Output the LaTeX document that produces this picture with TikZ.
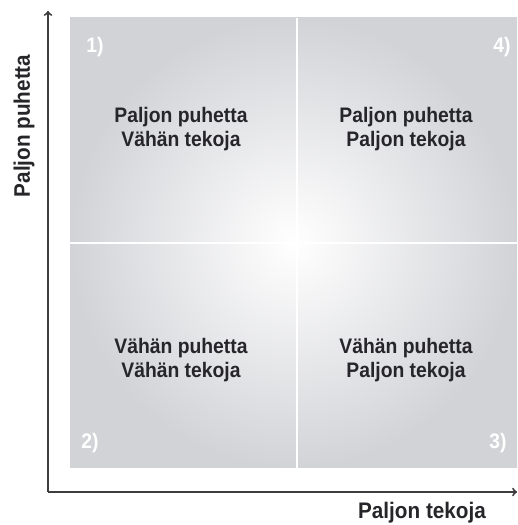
\documentclass[tikz,border=0pt]{standalone}
\usepackage{fontspec}
\setmainfont{Liberation Sans}[FakeStretch=0.92]
\usepackage{tikz}
\usetikzlibrary{arrows,backgrounds,calc}
\definecolor{quadgray}{RGB}{210,211,215}
\definecolor{inkgray}{RGB}{38,38,42}
\definecolor{axisgray}{RGB}{62,62,64}
\tikzset{
  quadtext/.style={align=center,font=\fontsize{21}{24}\selectfont\bfseries,text=inkgray,inner sep=0pt},
  quadnum/.style={font=\fontsize{21}{24}\selectfont\bfseries,text=white,inner sep=0pt},
  axislabel/.style={font=\fontsize{22.5}{24}\selectfont\bfseries,text=inkgray,inner sep=0pt},
  axisline/.style={draw=axisgray,line width=2pt,-to}
}
\begin{document}
\begin{tikzpicture}[x=1pt,y=1pt]
\useasboundingbox (0,0) rectangle (517,525);
\fill[quadgray] (70,57) rectangle (517,507);
\shade[inner color=white,outer color=quadgray] (70,57) rectangle (517,507);
\draw[white,line width=2pt] (297,57) -- (297,507) (70,282) -- (517,282);
\coordinate (origin) at (48,33);
\coordinate (ytip) at (48,514);
\coordinate (xtip) at (517,33);
\draw[axisline] (origin) -- (ytip);
\draw[axisline] (origin) -- (xtip);
\node[quadtext] (q1) at (181,396) {Paljon puhetta\\Vähän tekoja};
\node[quadtext] (q4) at (406,396) {Paljon puhetta\\Paljon tekoja};
\node[quadtext] (q2) at (181,165) {Vähän puhetta\\Vähän tekoja};
\node[quadtext] (q3) at (406,165) {Vähän puhetta\\Paljon tekoja};
\node[quadnum] (n1) at (95,478) {1)};
\node[quadnum] (n4) at (502,478) {4)};
\node[quadnum] (n2) at (90,82) {2)};
\node[quadnum] (n3) at (498,82) {3)};
\node[axislabel,rotate=90] (ylab) at (24,399) {Paljon puhetta};
\node[axislabel] (xlab) at (422,12) {Paljon tekoja};
\end{tikzpicture}
\end{document}
